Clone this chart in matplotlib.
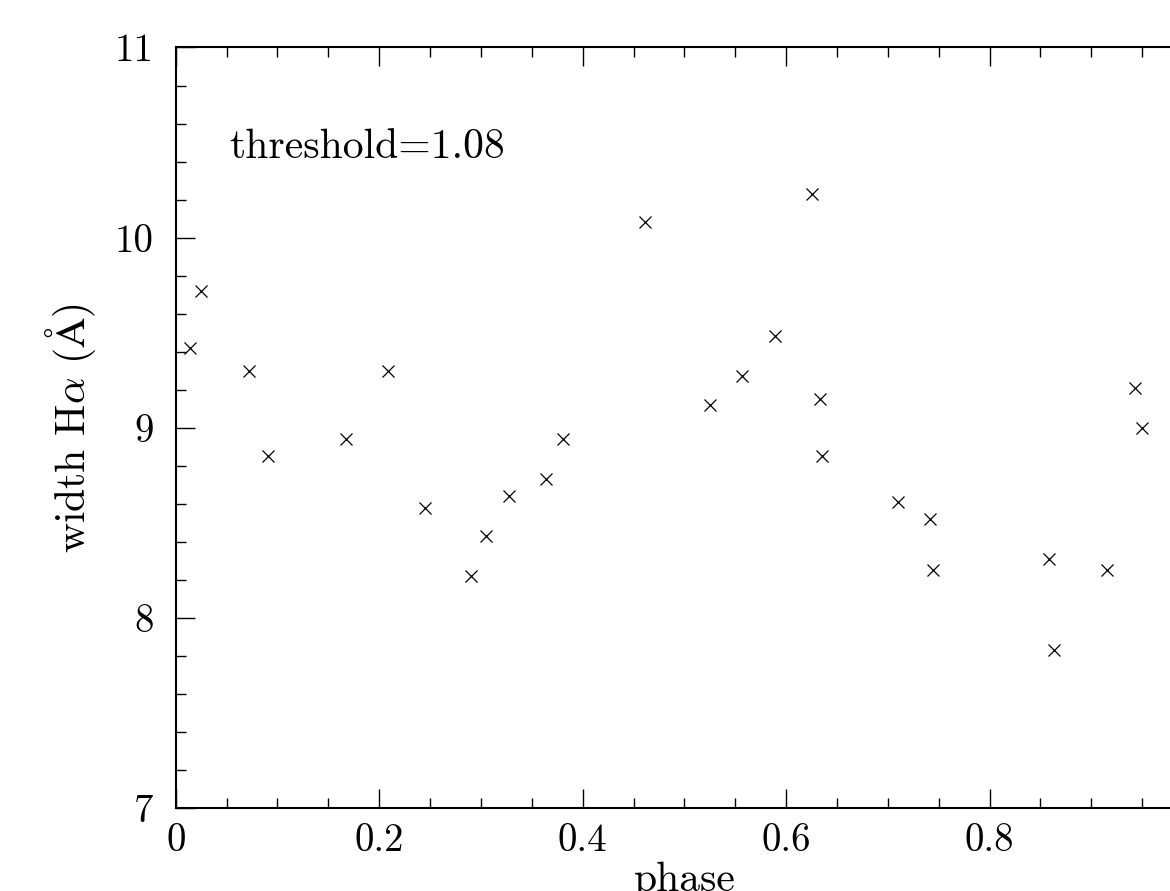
import matplotlib
matplotlib.use('Agg')
import matplotlib.pyplot as plt
from matplotlib.ticker import MultipleLocator, FuncFormatter

plt.rcParams['font.family'] = ['cmr10', 'DejaVu Serif']
plt.rcParams['mathtext.fontset'] = 'cm'
plt.rcParams['axes.formatter.use_mathtext'] = True

# phase vs H-alpha width
phase = [0.014, 0.025, 0.072, 0.091, 0.167, 0.209, 0.245, 0.290, 0.305, 0.328,
         0.364, 0.381, 0.461, 0.525, 0.557, 0.589, 0.625, 0.633, 0.635, 0.710,
         0.741, 0.744, 0.858, 0.863, 0.915, 0.943, 0.950]
width = [9.42, 9.72, 9.30, 8.85, 8.94, 9.30, 8.58, 8.22, 8.43, 8.64,
         8.73, 8.94, 10.08, 9.12, 9.27, 9.48, 10.23, 9.15, 8.85, 8.61,
         8.52, 8.25, 8.31, 7.83, 8.25, 9.21, 9.00]
threshold = 1.08

fig = plt.figure(figsize=(11.7, 8.91), dpi=100)
# the original is cropped on the right, so the axes run past the edge
ax = fig.add_axes((0.1502, 0.0932, 0.8695, 0.8535))

ax.plot(phase, width, 'x', color='black', markersize=8.5, markeredgewidth=0.9)

ax.set_xlim(0, 1)
ax.set_ylim(7, 11)

ax.xaxis.set_major_locator(MultipleLocator(0.2))
ax.xaxis.set_minor_locator(MultipleLocator(0.05))
ax.yaxis.set_major_locator(MultipleLocator(1))
ax.yaxis.set_minor_locator(MultipleLocator(0.2))
# the "1" label falls outside the cropped picture
ax.xaxis.set_major_formatter(FuncFormatter(lambda v, p: '%g' % v if v < 0.99 else ''))
ax.yaxis.set_major_formatter(FuncFormatter(lambda v, p: '%g' % v))

ax.tick_params(which='both', direction='in', top=True, right=True, width=1.0, color='black')
ax.tick_params(which='major', length=13.5, labelsize=28)
ax.tick_params(which='minor', length=7)
ax.tick_params(axis='x', pad=11)
ax.tick_params(axis='y', pad=16)
for s in ax.spines.values():
    s.set_linewidth(1.5)

ax.set_xlabel('phase', fontsize=30, labelpad=2)
ax.set_ylabel(r'width H$\alpha$ ($\mathrm{\AA}$)', fontsize=30, labelpad=12)

ax.text(0.053, 10.42, 'threshold=%.2f' % threshold, fontsize=30)

plt.savefig('out.png', dpi=100)
